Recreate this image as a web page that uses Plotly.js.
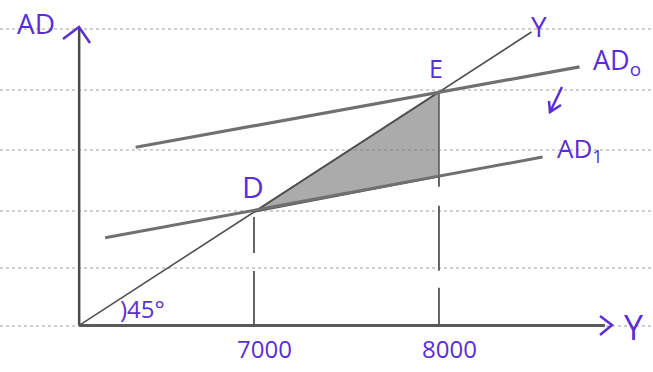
<!DOCTYPE html>
<html>
<head>
<meta charset="utf-8">
<script src="https://cdn.plot.ly/plotly-3.0.1.min.js"></script>
<style>html,body{margin:0;padding:0;background:#fff;}#chart{width:653px;height:372px;}</style>
</head>
<body>
<div id="chart"></div>
<script>
// ---- data (income Y on x, aggregate demand AD on y) ----
const incomeTicks = [7000, 8000];
const incomeTickLabels = ['7000', '8000'];
const axisOrigin = [6055, 6055];
const yAxisTopAD = 8533;
const xAxisEndY = 8897;
const line45Y = [6055, 8500];
const line45AD = [6055, 8500];
const ad0Y = [6360, 8760];
const ad0 = [7540, 8210];
const ad1Y = [6195, 8560];
const ad1 = [6785, 7458];
const pointD = [7000, 7000];
const pointE = [8000, 8000];
const ad1At8000 = 7295;

// ---- styling helpers ----
const W = 653, H = 372;
const purple = '#5a2ed4';
const pen = 'Open Sans, sans-serif';
const px = v => v / W;
const py = v => 1 - v / H;
const path = pts => pts.map((p, i) => (i ? 'L' : 'M') + px(p[0]) + ',' + py(p[1])).join(' ');

const ruledRows = [29, 90, 150, 211, 268, 326];
const shapes = ruledRows.map(r => ({
  type: 'line', xref: 'paper', yref: 'paper', x0: 0, x1: 1, y0: py(r), y1: py(r),
  line: {color: '#a0a0a0', width: 1.2, dash: 'dot'}, layer: 'below'
}));
// purple arrow heads and shift arrow
shapes.push({type: 'path', xref: 'paper', yref: 'paper', path: path([[63, 39], [79, 27], [90, 43]]), line: {color: purple, width: 2.5}});
shapes.push({type: 'path', xref: 'paper', yref: 'paper', path: path([[600, 316], [612, 325], [600, 335]]), line: {color: purple, width: 2.5}});
shapes.push({type: 'path', xref: 'paper', yref: 'paper', path: path([[562, 87], [550, 112]]), line: {color: purple, width: 2.5}});
shapes.push({type: 'path', xref: 'paper', yref: 'paper', path: path([[549, 101], [550, 112], [561, 105]]), line: {color: purple, width: 2.5}});

const traces = [
  // shaded triangle D-E-F
  {x: [pointD[0], pointE[0], pointE[0], pointD[0]], y: [pointD[1], pointE[1], ad1At8000, pointD[1]],
   mode: 'lines', fill: 'toself', fillcolor: 'rgba(120,120,120,0.62)', line: {color: '#5a5a5a', width: 1.6}},
  // axes
  {x: [axisOrigin[0], axisOrigin[0]], y: [axisOrigin[1], yAxisTopAD], mode: 'lines', line: {color: '#4a4a4a', width: 2.5}},
  {x: [axisOrigin[0], xAxisEndY], y: [axisOrigin[1], axisOrigin[1]], mode: 'lines', line: {color: '#5a5a5a', width: 3}},
  // 45 degree line
  {x: line45Y, y: line45AD, mode: 'lines', line: {color: '#505050', width: 1.6}},
  // AD0 and AD1
  {x: ad0Y, y: ad0, mode: 'lines', line: {color: '#707070', width: 3.2}},
  {x: ad1Y, y: ad1, mode: 'lines', line: {color: '#707070', width: 3}},
  // vertical guides
  {x: [pointD[0], pointD[0]], y: [pointD[1] - 42, axisOrigin[1]], mode: 'lines', line: {color: '#555', width: 1.8, dash: '36px,18px,60px'}},
  {x: [pointE[0], pointE[0]], y: [ad1At8000, axisOrigin[1]], mode: 'lines', line: {color: '#555', width: 1.8, dash: '10px,19px,65px,17px,60px'}}
];

const ann = (text, x, y, size, extra) => Object.assign({
  text: text, x: x, y: y, xref: 'paper', yref: 'paper', showarrow: false,
  xanchor: 'center', yanchor: 'middle', font: {family: pen, size: size, color: purple}
}, extra || {});

const annotations = [
  ann('AD', px(36), py(23), 28),
  ann('Y', px(539), py(26), 28),
  ann('AD<sub>o</sub>', px(591), py(62), 27, {xanchor: 'left'}),
  ann('AD<sub>1</sub>', px(555), py(149), 26, {xanchor: 'left'}),
  ann('Y', px(634), py(327), 34),
  ann(')45°', px(142), py(308), 24),
  {text: 'D', x: pointD[0], y: pointD[1], xref: 'x', yref: 'y', showarrow: false, xanchor: 'center', yanchor: 'middle',
   xshift: -1, yshift: 26, font: {family: pen, size: 30, color: purple}},
  {text: 'E', x: pointE[0], y: pointE[1], xref: 'x', yref: 'y', showarrow: false, xanchor: 'center', yanchor: 'middle',
   xshift: -3, yshift: 24, font: {family: pen, size: 25, color: purple}}
];
incomeTicks.forEach((t, i) => annotations.push({
  text: incomeTickLabels[i], x: t, y: axisOrigin[1], xref: 'x', yref: 'y', showarrow: false,
  xanchor: 'center', yanchor: 'middle', xshift: 11, yshift: -23, font: {family: pen, size: 24, color: purple}
}));

const layout = {
  width: W, height: H, margin: {l: 0, r: 0, t: 0, b: 0},
  paper_bgcolor: '#ffffff', plot_bgcolor: '#ffffff', showlegend: false,
  xaxis: {range: [5627, 9157], visible: false, fixedrange: true},
  yaxis: {range: [5667, 8767], visible: false, fixedrange: true},
  shapes: shapes, annotations: annotations
};
Plotly.newPlot('chart', traces, layout, {staticPlot: true, displayModeBar: false});
</script>
</body>
</html>
